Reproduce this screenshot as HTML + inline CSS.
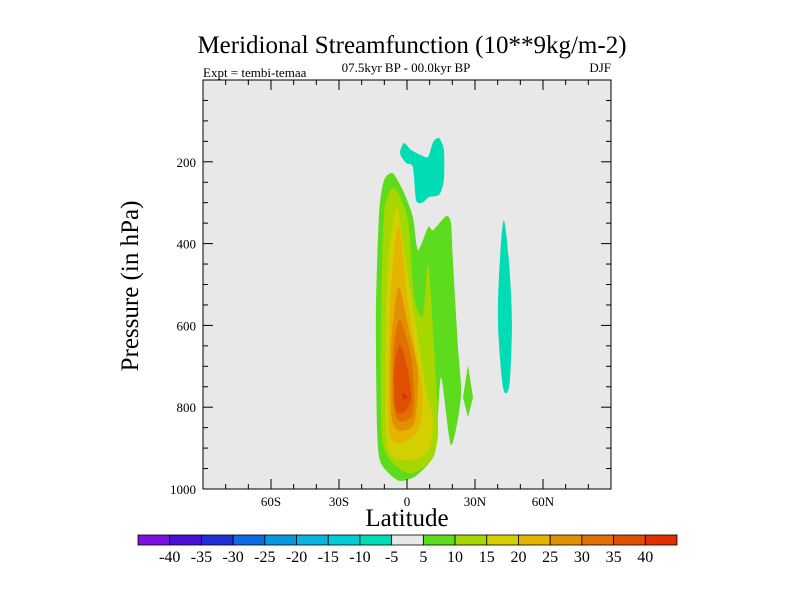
<!DOCTYPE html>
<html><head><meta charset="utf-8"><style>
html,body{margin:0;padding:0;background:#fff;}
svg text{font-family:"Liberation Serif",serif;fill:#000;}
</style></head><body>
<svg id="chart" width="800" height="600" viewBox="0 0 800 600" xmlns="http://www.w3.org/2000/svg">
<text x="412" y="53" font-size="25" text-anchor="middle">Meridional Streamfunction (10**9kg/m-2)</text>
<text x="406" y="72" font-size="13" text-anchor="middle">07.5kyr BP - 00.0kyr BP</text>
<text x="203" y="77" font-size="13">Expt = tembi-temaa</text>
<text x="611" y="72" font-size="13" text-anchor="end">DJF</text>
<rect x="203" y="80" width="408" height="409" fill="#e8e8e8"/>
<g id="contours"></g>
<g id="axes"></g>
<rect x="203" y="80" width="408" height="409" fill="none" stroke="#000" stroke-width="1"/>
<text transform="translate(138,286) rotate(-90)" font-size="25" text-anchor="middle">Pressure (in hPa)</text>
<text x="407" y="526" font-size="25" text-anchor="middle">Latitude</text>
<g id="colorbar"></g>
</svg>
<script>
const xTicks=[-60,-30,0,30,60];
const xTickLabels=["60S","30S","0","30N","60N"];
const yTicks=[200,400,600,800,1000];
const cbLabels=["-40","-35","-30","-25","-20","-15","-10","-5","5","10","15","20","25","30","35","40"];
const cbColors=["#7d10e0","#4a10d8","#2230d8","#0a6ce0","#0898e0","#08b4e0","#00ccd8","#00dcb4","#e8e8e8","#5cdc1c","#a6d800","#d4cf00","#e4b400","#e09000","#e07000","#e05000","#e03000"];
// contour polygons: [lat, pressure]
const greenMain=[[-6.2,228],[-1.3,276],[2.6,335],[4.8,416],[9.3,360],[11.5,367],[17.2,333],[19.4,350],[20.3,448],[22.5,653],[23.8,776],[19.4,893],[15.0,727],[12.8,898],[9.7,937],[3.1,971],[-4.0,979],[-11.5,937],[-13.2,856],[-13.7,570],[-12.3,325],[-10.1,245]];
const greenDiamond=[[26.9,697],[29.1,776],[26.9,825],[24.7,776]];
const cyanTop=[[-1.3,154],[1.8,171],[6.2,184],[9.3,188],[11.5,152],[14.1,142],[16.3,171],[16.3,245],[14.1,281],[9.7,286],[7.0,299],[4.0,294],[2.6,213],[-0.4,203],[-3.1,179]];
const cyanRight=[[42.7,343],[44.9,440],[46.3,587],[45.4,734],[43.6,766],[41.9,734],[40.1,587],[41.0,440]];
const level10=[[-5.7,264],[0.4,343],[3.1,531],[7.0,575],[9.3,448],[11.5,612],[13.7,856],[10.6,930],[1.8,962],[-6.2,937],[-11.0,874],[-11.5,612],[-10.1,325]];
const level15=[[-4.8,311],[-2.6,367],[1.8,531],[5.3,644],[8.4,759],[11.5,832],[9.3,905],[0.4,930],[-8.4,898],[-9.3,693],[-8.4,448]];
const level20=[[-3.5,360],[0.4,546],[4.8,693],[7.0,776],[4.8,856],[-2.6,888],[-7.9,856],[-7.9,612],[-6.2,448]];
const level25=[[-3.5,507],[0.9,612],[4.8,717],[3.1,839],[-4.0,856],[-7.0,815],[-7.0,653],[-5.7,570]];
const level30=[[-3.1,587],[1.8,678],[3.1,776],[1.8,825],[-4.0,832],[-6.2,776],[-5.7,653]];
const level35=[[-3.1,648],[0.4,710],[1.8,776],[-0.4,808],[-4.8,808],[-5.7,710]];
const level40=[[-1.8,763],[0.4,776],[-1.8,783]];

const NS="http://www.w3.org/2000/svg";
const X0=203,X1=611,Y0=80,Y1=489;
function xs(lat){return X0+(lat+90)/180*(X1-X0);}
function ys(p){return Y0+p/1000*(Y1-Y0);}
function mk(tag,attrs,parent){const e=document.createElementNS(NS,tag);for(const k in attrs)e.setAttribute(k,attrs[k]);parent.appendChild(e);return e;}
function smoothPath(pts,t){
  const P=pts.map(q=>[xs(q[0]),ys(q[1])]);const n=P.length;
  let d='M'+P[0][0].toFixed(1)+','+P[0][1].toFixed(1);
  for(let i=0;i<n;i++){
    const p0=P[(i-1+n)%n],p1=P[i],p2=P[(i+1)%n],p3=P[(i+2)%n];
    const c1=[p1[0]+(p2[0]-p0[0])*t,p1[1]+(p2[1]-p0[1])*t];
    const c2=[p2[0]-(p3[0]-p1[0])*t,p2[1]-(p3[1]-p1[1])*t];
    d+='C'+c1[0].toFixed(1)+','+c1[1].toFixed(1)+' '+c2[0].toFixed(1)+','+c2[1].toFixed(1)+' '+p2[0].toFixed(1)+','+p2[1].toFixed(1);
  }
  return d+'Z';
}
const cg=document.getElementById('contours');
const polys=[[cyanTop,"#00dcb4","contour-minus5-top",0.12],[cyanRight,"#00dcb4","contour-minus5-right",0.15],[greenMain,"#5cdc1c","contour-5",0.12],[greenDiamond,"#5cdc1c","contour-5-small",0],[level10,"#a6d800","contour-10",0.12],[level15,"#d4cf00","contour-15",0.14],[level20,"#e4b400","contour-20",0.14],[level25,"#e09000","contour-25",0.14],[level30,"#e07000","contour-30",0.14],[level35,"#e05000","contour-35",0.14],[level40,"#e03000","contour-40",0]];
polys.forEach(([pts,col,name,t])=>{
  const e=mk('path',{d:smoothPath(pts,t),fill:col},cg);
  
  
});
const ax=document.getElementById('axes');
for(let lat=-90;lat<=90;lat+=10){
  const x=xs(lat);const len=(lat%30===0)?10:5;
  mk('line',{x1:x,y1:Y1,x2:x,y2:Y1-len,stroke:'#000'},ax);
  mk('line',{x1:x,y1:Y0,x2:x,y2:Y0+len,stroke:'#000'},ax);
}
xTicks.forEach((v,i)=>{const t=mk('text',{x:xs(v),y:Y1+17,'font-size':13,'text-anchor':'middle'},ax);t.textContent=xTickLabels[i];
  
  });
for(let p=50;p<=1000;p+=50){
  const y=ys(p);const len=(p%200===0)?10:5;
  mk('line',{x1:X0,y1:y,x2:X0+len,y2:y,stroke:'#000'},ax);
  mk('line',{x1:X1,y1:y,x2:X1-len,y2:y,stroke:'#000'},ax);
}
yTicks.forEach(v=>{const t=mk('text',{x:X0-7,y:ys(v)+5,'font-size':13,'text-anchor':'end'},ax);t.textContent=String(v);
  
  });
const cb=document.getElementById('colorbar');
const CB0=138,CB1=677,CBY=535,CBH=10,bw=(CB1-CB0)/cbColors.length;
cbColors.forEach((c,i)=>{const r=mk('rect',{x:CB0+i*bw,y:CBY,width:bw,height:CBH,fill:c,stroke:'#000','stroke-width':0.8},cb);
  
  });
cbLabels.forEach((l,i)=>{const t=mk('text',{x:CB0+(i+1)*bw,y:CBY+CBH+17,'font-size':16,'text-anchor':'middle'},cb);t.textContent=l;
  
  });
</script>
</body></html>
